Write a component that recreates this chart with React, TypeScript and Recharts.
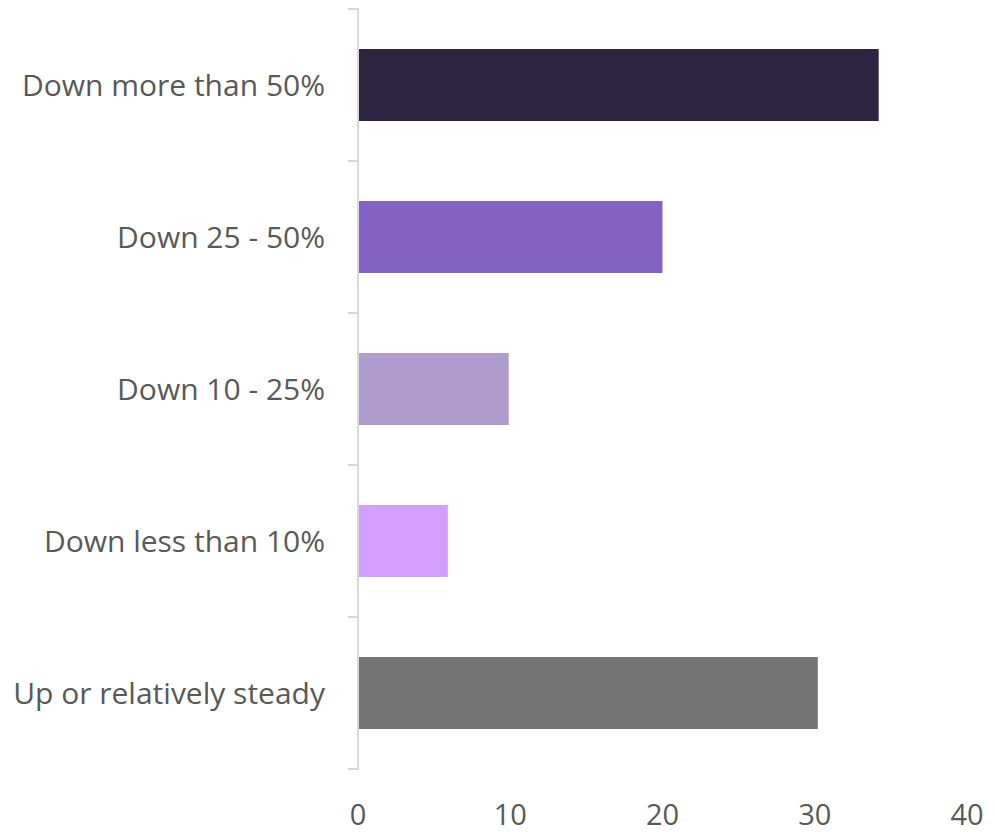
import { BarChart, Bar, XAxis, YAxis, Cell } from "recharts"

const categories = [
  "Down more than 50%",
  "Down 25 - 50%",
  "Down 10 - 25%",
  "Down less than 10%",
  "Up or relatively steady",
]
const values = [34.2, 20, 9.9, 5.9, 30.2]
const colors = ["#2E2542", "#8562C5", "#AE9CCD", "#D49EFF", "#737373"]
const xTicks = [0, 10, 20, 30, 40]

const data = categories.map((name, i) => ({ name, value: values[i] }))

const FONT = "'Open Sans', 'Noto Sans', sans-serif"
const BAND = 152

function CategoryTick(props: any) {
  const { x, y, payload } = props
  return (
    <g>
      <line x1={x - 2} x2={x + 9} y1={y - BAND / 2} y2={y - BAND / 2} stroke="#d9d9d9" strokeWidth={2} />
      <line x1={x - 2} x2={x + 9} y1={y + BAND / 2} y2={y + BAND / 2} stroke="#d9d9d9" strokeWidth={2} />
      <text x={x - 25} y={y} dy="0.35em" textAnchor="end" fill="#595959" fontSize={30} fontFamily={FONT}>
        {payload.value}
      </text>
    </g>
  )
}

export default function App() {
  return (
    <BarChart
      width={987}
      height={824}
      data={data}
      layout="vertical"
      margin={{ top: 1, right: 28, bottom: 10, left: 0 }}
      barCategoryGap={0}
    >
      <XAxis
        type="number"
        domain={[0, 40]}
        ticks={xTicks}
        axisLine={false}
        tickLine={false}
        tickMargin={29}
        height={53}
        tick={{ fill: "#595959", fontSize: 29, fontFamily: FONT }}
        interval={0}
      />
      <YAxis
        type="category"
        dataKey="name"
        width={350}
        axisLine={{ stroke: "#d9d9d9", strokeWidth: 2 }}
        tickLine={false}
        tick={<CategoryTick />}
        interval={0}
      />
      <Bar dataKey="value" barSize={72} isAnimationActive={false}>
        {data.map((d, i) => (
          <Cell key={d.name} fill={colors[i]} />
        ))}
      </Bar>
    </BarChart>
  )
}
